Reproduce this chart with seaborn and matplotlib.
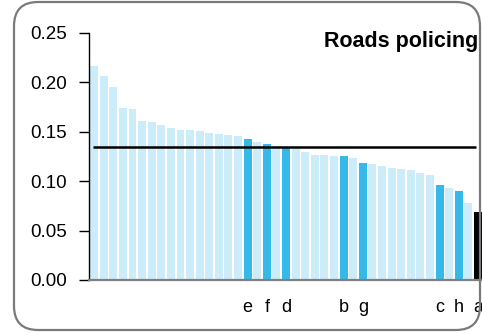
import matplotlib
matplotlib.use("Agg")
import matplotlib.pyplot as plt
from matplotlib.patches import FancyBboxPatch
import seaborn as sns
import pandas as pd

# bar heights, sorted high to low
values = [0.2165, 0.206, 0.195, 0.1737, 0.1727, 0.1606, 0.1596, 0.1566, 0.1535, 0.1515,
          0.1515, 0.1505, 0.1485, 0.1475, 0.1465, 0.1455, 0.1424, 0.1394, 0.1374, 0.1355,
          0.1345, 0.133, 0.1293, 0.1263, 0.1263, 0.1253, 0.1253, 0.1232, 0.1182, 0.1172,
          0.1152, 0.1131, 0.1121, 0.1111, 0.1081, 0.1061, 0.096, 0.093, 0.0899, 0.0778,
          0.0687]
# letter under the highlighted bars
labels = [""] * 41
highlight = {16: "e", 18: "f", 20: "d", 26: "b", 28: "g", 36: "c", 38: "h", 40: "a"}
for i, l in highlight.items():
    labels[i] = l
kind = ["other"] * 41
for i in highlight:
    kind[i] = "peer"
kind[40] = "self"
average = 0.135

df = pd.DataFrame({"pos": range(41), "value": values, "kind": kind})
palette = {"other": "#CDECF9", "peer": "#35B9E9", "self": "#000000"}

sns.set_style("white")
plt.rcParams["font.family"] = ["Liberation Sans", "DejaVu Sans"]
plt.rcParams["text.color"] = "black"
plt.rcParams["xtick.color"] = "black"
plt.rcParams["ytick.color"] = "black"

fig = plt.figure(figsize=(4.82, 3.34), dpi=100)
ax = fig.add_axes([0.1853, 0.1617, 0.8164, 0.7395])

sns.barplot(data=df, x="pos", y="value", hue="kind", palette=palette,
            dodge=False, width=0.83, legend=False, ax=ax, saturation=1,
            linewidth=0)

ax.hlines(average, -0.1, 39.8, color="black", lw=1.8, zorder=5)

ax.set_xlim(-0.5, 40.5)
ax.set_ylim(0, 0.25)
ax.set_yticks([0, 0.05, 0.10, 0.15, 0.20, 0.25])
ax.set_yticklabels(["0.00", "0.05", "0.10", "0.15", "0.20", "0.25"])
ax.set_xticks(range(41))
ax.set_xticklabels(labels)
ax.set_xlabel("")
ax.set_ylabel("")

ax.tick_params(axis="y", left=True, length=7, width=1, color="black",
               labelcolor="black", labelsize=13.5, pad=9)
ax.tick_params(axis="x", bottom=False, length=0, labelcolor="black",
               labelsize=13, pad=14)

for s in ["top", "right"]:
    ax.spines[s].set_visible(False)
ax.spines["left"].set_color("black")
ax.spines["left"].set_linewidth(1)
ax.spines["bottom"].set_color("#7f7f7f")
ax.spines["bottom"].set_linewidth(1.6)

fig.text(0.992, 1 - 47 / 334, "Roads policing", ha="right", va="baseline",
         fontsize=15.5, fontweight="bold", color="black")

frame = FancyBboxPatch((14 / 482, 4 / 334), (480 - 14) / 482, (332 - 4) / 334,
                       boxstyle="round,pad=0,rounding_size=0.05",
                       transform=fig.transFigure, fill=False,
                       edgecolor="#7a7a7a", lw=1.6, zorder=10, clip_on=False,
                       mutation_aspect=482 / 334)
fig.patches.append(frame)

fig.savefig("out.png", dpi=100)
